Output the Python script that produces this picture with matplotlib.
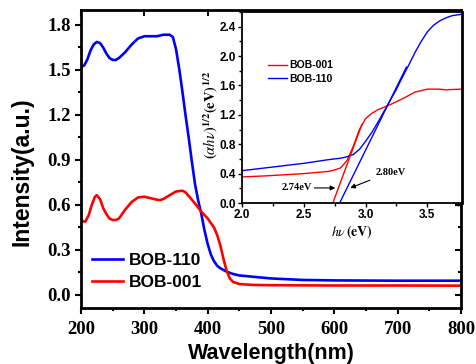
import matplotlib
matplotlib.use("Agg")
import matplotlib.pyplot as plt
from matplotlib.ticker import MultipleLocator

plt.rcParams['mathtext.fontset'] = 'stix'

# ---- main spectra data ----
wl_110 = [200, 205, 210, 215, 220, 225, 230, 235, 240, 245, 250, 255, 260, 270, 280, 290, 300,
          310, 320, 330, 340, 345, 350, 355, 360, 365, 370, 375, 380, 385, 390, 395, 400, 405,
          410, 415, 420, 430, 440, 450, 475, 500, 550, 600, 700, 800]
int_110 = [1.52, 1.53, 1.57, 1.63, 1.67, 1.687, 1.68, 1.65, 1.61, 1.58, 1.567, 1.567, 1.58, 1.62,
           1.67, 1.71, 1.725, 1.725, 1.725, 1.735, 1.735, 1.72, 1.64, 1.51, 1.36, 1.20, 1.05, 0.89,
           0.74, 0.63, 0.54, 0.43, 0.34, 0.27, 0.225, 0.195, 0.178, 0.155, 0.14, 0.13, 0.12, 0.11,
           0.10, 0.097, 0.095, 0.095]

wl_001 = [200, 203, 207, 212, 217, 222, 225, 230, 235, 240, 245, 250, 255, 260, 270, 280, 290,
          300, 310, 320, 325, 330, 340, 350, 360, 365, 370, 380, 390, 400, 410, 415, 420, 425,
          430, 435, 440, 450, 470, 500, 600, 700, 800]
int_001 = [0.51, 0.49, 0.49, 0.53, 0.60, 0.655, 0.665, 0.64, 0.58, 0.54, 0.51, 0.50, 0.50, 0.51,
           0.57, 0.62, 0.65, 0.655, 0.645, 0.635, 0.633, 0.64, 0.665, 0.69, 0.695, 0.685, 0.66,
           0.61, 0.555, 0.51, 0.45, 0.40, 0.33, 0.24, 0.16, 0.11, 0.087, 0.073, 0.067, 0.065,
           0.063, 0.063, 0.062]

# ---- inset Tauc plot data ----
E_001 = [2.0, 2.2, 2.4, 2.5, 2.6, 2.7, 2.75, 2.8, 2.85, 2.9, 2.95, 3.0, 3.05, 3.1, 3.2, 3.3,
         3.4, 3.5, 3.6, 3.65, 3.7, 3.78]
T_001 = [0.355, 0.37, 0.39, 0.40, 0.415, 0.43, 0.45, 0.48, 0.58, 0.77, 1.0, 1.15, 1.22, 1.27,
         1.34, 1.42, 1.51, 1.55, 1.55, 1.54, 1.545, 1.55]
E_110 = [2.0, 2.2, 2.4, 2.5, 2.6, 2.7, 2.8, 2.85, 2.9, 2.95, 3.0, 3.05, 3.1, 3.15, 3.2, 3.25,
         3.3, 3.35, 3.4, 3.45, 3.5, 3.55, 3.6, 3.65, 3.7, 3.78]
T_110 = [0.44, 0.48, 0.52, 0.54, 0.565, 0.59, 0.61, 0.63, 0.66, 0.73, 0.84, 0.96, 1.10, 1.25,
         1.40, 1.55, 1.72, 1.88, 2.05, 2.2, 2.33, 2.42, 2.48, 2.52, 2.55, 2.57]

# tangent lines (start, end) for band gap extrapolation
tan_001_E = [2.735, 2.97]
tan_001_T = [0.0, 1.07]
tan_110_E = [2.79, 3.33]
tan_110_T = [0.0, 1.85]

fig = plt.figure(figsize=(4.76, 3.64), dpi=100)
ax = fig.add_axes([81/476, 1-308/364, 380/476, 298/364])

ax.plot(wl_110, int_110, color='#0000ff', lw=1.9, label='BOB-110')
ax.plot(wl_001, int_001, color='#ff0000', lw=1.9, label='BOB-001')
ax.set_xlim(200, 800)
ax.set_ylim(-0.087, 1.9)
ax.xaxis.set_major_locator(MultipleLocator(100))
ax.xaxis.set_minor_locator(MultipleLocator(50))
ax.yaxis.set_major_locator(MultipleLocator(0.3))
ax.yaxis.set_minor_locator(MultipleLocator(0.15))
ax.yaxis.set_major_formatter(matplotlib.ticker.FormatStrFormatter('%.1f'))
for s in ax.spines.values():
    s.set_linewidth(2.0)
ax.tick_params(which='both', direction='out', width=1.5, top=False, right=False)
ax.tick_params(which='major', length=4)
ax.tick_params(which='minor', length=2.5)
for lab in ax.get_xticklabels() + ax.get_yticklabels():
    lab.set_fontfamily('Liberation Serif')
    lab.set_fontweight('bold')
    lab.set_fontsize(13.5)
# inward ticks on top / right
axt = ax.secondary_xaxis('top')
axt.xaxis.set_major_locator(MultipleLocator(100))
axt.tick_params(direction='in', length=4, width=1.5, labeltop=False)
axr = ax.secondary_yaxis('right')
axr.yaxis.set_major_locator(MultipleLocator(0.3))
axr.yaxis.set_minor_locator(MultipleLocator(0.15))
axr.tick_params(which='both', direction='in', width=1.5, labelright=False)
axr.tick_params(which='major', length=4)
axr.tick_params(which='minor', length=2.5)
ax.tick_params(axis='x', pad=5)

ax.set_xlabel('Wavelength(nm)', fontfamily='Liberation Sans', fontweight='bold', fontsize=15.5, labelpad=4)
ax.set_ylabel('Intensity(a.u.)', fontfamily='Liberation Sans', fontweight='bold', fontsize=16.5)
ax.yaxis.set_label_coords(-0.125, 0.456)

leg = ax.legend(loc='center left', bbox_to_anchor=(0.029, 0.122), frameon=False,
                prop={'family': 'Liberation Sans', 'weight': 'bold', 'size': 12.5},
                handlelength=1.8, handletextpad=0.35, labelspacing=0.38, borderpad=0, borderaxespad=0)

# ---- inset ----
ins = fig.add_axes([242/476, 1-203/364, 220/476, 191/364])
ins.plot(E_001, T_001, color='#ff0000', lw=1.0, label='BOB-001')
ins.plot(E_110, T_110, color='#0000ff', lw=1.0, label='BOB-110')
ins.plot(tan_001_E, tan_001_T, color='#ff0000', lw=1.0)
ins.plot(tan_110_E, tan_110_T, color='#0000ff', lw=1.0)
ins.set_xlim(2.0, 3.78)
ins.set_ylim(0, 2.6)
ins.xaxis.set_major_locator(MultipleLocator(0.5))
ins.xaxis.set_minor_locator(MultipleLocator(0.25))
ins.yaxis.set_major_locator(MultipleLocator(0.4))
ins.yaxis.set_minor_locator(MultipleLocator(0.2))
ins.yaxis.set_major_formatter(matplotlib.ticker.FormatStrFormatter('%.1f'))
for s in ins.spines.values():
    s.set_linewidth(1.3)
ins.spines['right'].set_linewidth(2.0)
ins.tick_params(which='both', direction='out', width=1.0, right=False, top=False, pad=1.5)
ins.tick_params(which='major', length=3)
ins.tick_params(which='minor', length=2)
for lab in ins.get_xticklabels() + ins.get_yticklabels():
    lab.set_fontfamily('Liberation Sans')
    lab.set_fontweight('bold')
    lab.set_fontsize(8.5)
ins.set_xlabel(r'$\mathit{h\nu}\,\mathbf{(eV)}$', fontsize=10, labelpad=1)
ins.set_ylabel(r'$\mathbf{(}\mathit{\alpha h\nu}\mathbf{)}^{\mathbf{1/2}}\mathbf{(eV)}^{\mathbf{1/2}}$',
               fontsize=10.5)
ins.yaxis.set_label_coords(-0.1, 0.46)
ins.legend(loc='center left', bbox_to_anchor=(0.118, 0.686), frameon=False,
           prop={'family': 'Liberation Sans', 'weight': 'bold', 'size': 7.5},
           handlelength=1.8, handletextpad=0.2, labelspacing=0.3, borderpad=0, borderaxespad=0)

ins.annotate('2.74eV', xy=(2.755, 0.205), xytext=(2.44, 0.205), ha='center', va='center',
             fontfamily='Liberation Serif', fontweight='bold', fontsize=7.5,
             arrowprops=dict(arrowstyle='-|>', color='black', lw=0.8, mutation_scale=7,
                             shrinkA=0, shrinkB=0))
ins.annotate('2.80eV', xy=(2.876, 0.205), xytext=(3.2, 0.42), ha='center', va='center',
             fontfamily='Liberation Serif', fontweight='bold', fontsize=7.5,
             arrowprops=dict(arrowstyle='-|>', color='black', lw=0.8, mutation_scale=7,
                             shrinkA=2, shrinkB=0))

fig.savefig('out.png', dpi=100)
